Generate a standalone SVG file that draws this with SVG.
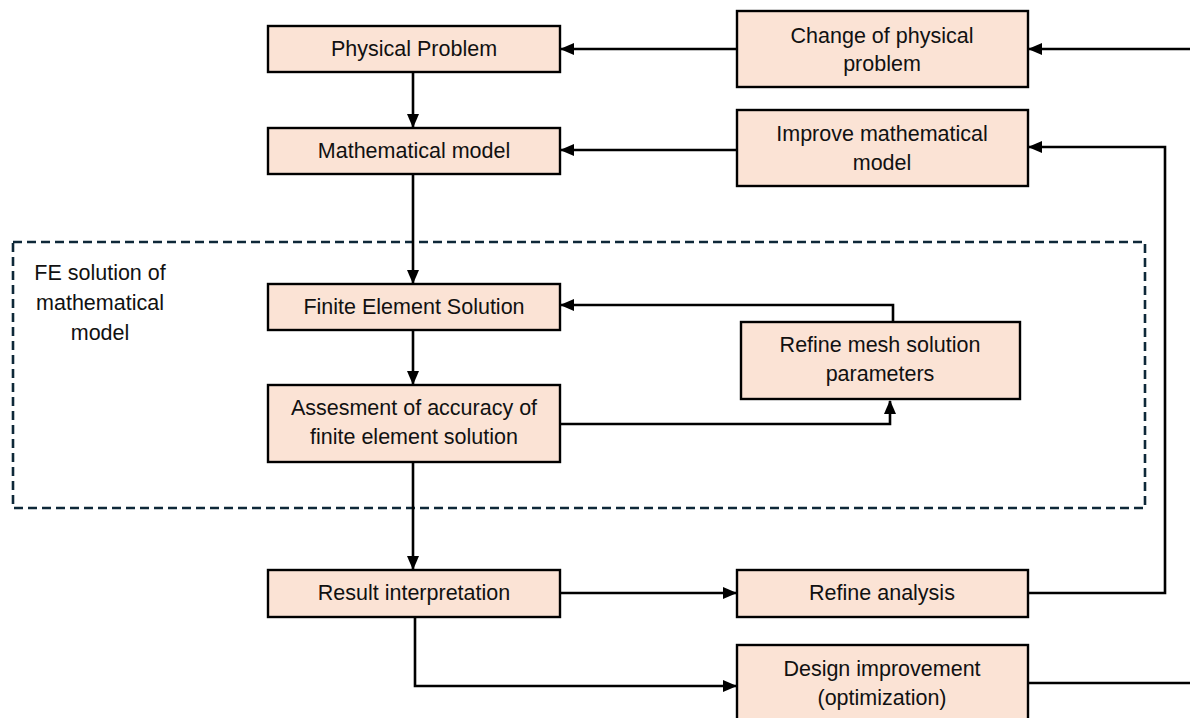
<svg xmlns="http://www.w3.org/2000/svg" width="1190" height="718" viewBox="0 0 1190 718">
<style>
.box{fill:#fbe3d5;stroke:#000;stroke-width:2.4}
.t{font-family:"Liberation Sans",Arial,sans-serif;font-size:21.5px;fill:#111;text-anchor:middle}
.c{fill:none;stroke:#000;stroke-width:2.6}
.dash{fill:none;stroke:#0e2838;stroke-width:2.6;stroke-dasharray:9,5}
</style>
<defs>
<marker id="ah" markerUnits="userSpaceOnUse" markerWidth="14" markerHeight="12" refX="13" refY="6" orient="auto">
<path d="M0,0 L14,6 L0,12 Z" fill="#000"/>
</marker>
</defs>
<rect width="1190" height="718" fill="#fff"/>
<rect class="dash" x="13" y="242" width="1132" height="266"/>
<text class="t" x="100" y="280">FE solution of</text>
<text class="t" x="100" y="310">mathematical</text>
<text class="t" x="100" y="340">model</text>
<g id="connectors">
<path class="c" d="M413,72 V127" marker-end="url(#ah)"/>
<path class="c" d="M413,174 V283" marker-end="url(#ah)"/>
<path class="c" d="M413,330 V384" marker-end="url(#ah)"/>
<path class="c" d="M413,462 V569" marker-end="url(#ah)"/>
<path class="c" d="M737,49 H561" marker-end="url(#ah)"/>
<path class="c" d="M1190,49 H1029" marker-end="url(#ah)"/>
<path class="c" d="M737,150 H561" marker-end="url(#ah)"/>
<path class="c" d="M1028,593 H1165 V147 H1029" marker-end="url(#ah)"/>
<path class="c" d="M893,322 V305 H561" marker-end="url(#ah)"/>
<path class="c" d="M560,424 H890 V401" marker-end="url(#ah)"/>
<path class="c" d="M560,593 H736" marker-end="url(#ah)"/>
<path class="c" d="M415,617 V686 H736" marker-end="url(#ah)"/>
<path class="c" d="M1028,683 H1190"/>
</g>
<g id="physical-problem"><rect class="box" x="268" y="26" width="292" height="46"/><text class="t" x="414" y="56">Physical Problem</text></g>
<g id="mathematical-model"><rect class="box" x="268" y="128" width="292" height="46"/><text class="t" x="414" y="158">Mathematical model</text></g>
<g id="change-physical"><rect class="box" x="737" y="11" width="291" height="76"/><text class="t" x="882" y="43">Change of physical</text><text class="t" x="882" y="71">problem</text></g>
<g id="improve-model"><rect class="box" x="737" y="110" width="291" height="76"/><text class="t" x="882" y="141">Improve mathematical</text><text class="t" x="882" y="170">model</text></g>
<g id="fe-solution"><rect class="box" x="268" y="284" width="292" height="46"/><text class="t" x="414" y="314">Finite Element Solution</text></g>
<g id="refine-mesh"><rect class="box" x="741" y="322" width="279" height="77"/><text class="t" x="880" y="352">Refine mesh solution</text><text class="t" x="880" y="381">parameters</text></g>
<g id="assessment"><rect class="box" x="268" y="385" width="292" height="77"/><text class="t" x="414" y="415">Assesment of accuracy of</text><text class="t" x="414" y="444">finite element solution</text></g>
<g id="result-interpretation"><rect class="box" x="268" y="570" width="292" height="47"/><text class="t" x="414" y="600">Result interpretation</text></g>
<g id="refine-analysis"><rect class="box" x="737" y="570" width="291" height="47"/><text class="t" x="882" y="600">Refine analysis</text></g>
<g id="design-improvement"><rect class="box" x="737" y="645" width="291" height="80"/><text class="t" x="882" y="676">Design improvement</text><text class="t" x="882" y="705">(optimization)</text></g>
</svg>
